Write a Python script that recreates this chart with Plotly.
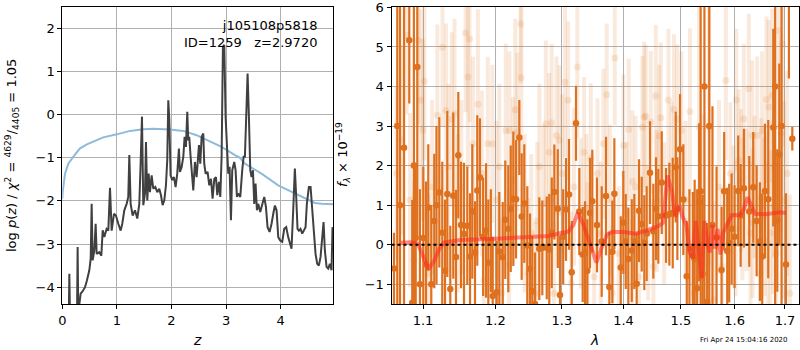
import plotly.graph_objects as go

# ---------------- left panel: log p(z) ----------------
z_pz = [0.0, 0.06, 0.10, 0.12, 0.129, 0.14, 0.17, 0.21, 0.25, 0.27,
        0.281, 0.292, 0.31, 0.336, 0.37, 0.416, 0.45, 0.495, 0.52, 0.538,
        0.556, 0.587, 0.611, 0.63, 0.678, 0.715, 0.74, 0.77, 0.812, 0.843,
        0.874, 0.904, 0.947, 0.983, 1.026, 1.069, 1.099, 1.136, 1.179, 1.209,
        1.228, 1.252, 1.289, 1.332, 1.374, 1.411, 1.435, 1.46, 1.484, 1.515,
        1.533, 1.557, 1.582, 1.606, 1.637, 1.667, 1.704, 1.74, 1.777, 1.808,
        1.838, 1.869, 1.899, 1.923, 1.942, 1.96, 1.984, 2.015, 2.046, 2.076,
        2.106, 2.137, 2.155, 2.186, 2.217, 2.241, 2.265, 2.29, 2.308, 2.326,
        2.351, 2.375, 2.40, 2.43, 2.461, 2.504, 2.528, 2.553, 2.583, 2.601,
        2.626, 2.662, 2.693, 2.724, 2.754, 2.785, 2.815, 2.84, 2.87, 2.895,
        2.919, 2.943, 2.968, 2.992, 3.017, 3.041, 3.065, 3.09, 3.114, 3.151,
        3.175, 3.2, 3.224, 3.261, 3.297, 3.322, 3.346, 3.37, 3.395, 3.419,
        3.444, 3.468, 3.493, 3.517, 3.541, 3.566, 3.59, 3.627, 3.669, 3.70,
        3.731, 3.761, 3.798, 3.834, 3.871, 3.896, 3.926, 3.957, 3.993, 4.03,
        4.066, 4.103, 4.139, 4.17, 4.20, 4.231, 4.261, 4.286, 4.31, 4.335,
        4.365, 4.396, 4.426, 4.457, 4.481, 4.518, 4.549, 4.579, 4.61, 4.64,
        4.671, 4.701, 4.732, 4.763, 4.787, 4.811, 4.842, 4.872, 4.903, 4.933,
        4.951, 4.97]
logp = [-5.5, -5.2, -5.0, -4.6, -3.69, -4.6, -5.2, -5.0, -4.8, -4.6,
        -3.07, -4.6, -4.35, -4.15, -4.1, -4.0, -3.85, -3.61, -3.34, -2.07,
        -3.38, -3.15, -2.53, -3.23, -3.19, -3.27, -2.68, -2.84, -2.65, -2.69,
        -1.70, -2.69, -2.30, -2.34, -2.53, -2.69, -2.53, -2.22, -2.07, -1.91,
        -0.94, -2.07, -2.34, -2.22, -2.41, -2.07, -1.14, -0.05, -2.10, -1.83,
        -0.64, -1.99, -1.37, -1.80, -1.41, -1.72, -1.68, -1.80, -1.72, -1.87,
        -2.10, -1.99, -1.64, -1.06, 0.33, -0.09, -1.41, -1.52, -1.45, -1.68,
        -1.37, -0.79, -1.33, -1.22, -0.98, -0.52, -0.75, 0.06, -0.60, -0.52,
        -0.98, -1.29, -1.76, -1.10, -1.45, -0.71, -1.14, -0.52, -0.44, -1.14,
        -1.37, -1.33, -1.64, -1.49, -1.95, -1.49, -1.45, -1.87, -1.56, -1.91,
        -0.98, 1.57, 1.61, -0.05, -0.83, -1.37, -1.21, -2.45, -1.29, -1.10,
        -1.29, -1.91, -1.83, -1.91, -1.29, -0.98, -0.98, 0.02, 0.95, -0.05,
        -1.29, -1.45, -1.29, -2.07, -1.60, -2.22, -2.07, -2.26, -2.07, -1.91,
        -2.14, -2.61, -2.72, -2.53, -2.26, -2.11, -2.22, -2.84, -2.92, -2.95,
        -2.65, -2.61, -2.84, -2.99, -3.11, -2.22, -1.25, -1.91, -2.65, -2.69,
        -2.65, -2.76, -2.69, -2.61, -2.07, -1.68, -1.68, -2.14, -2.76, -3.23,
        -3.46, -3.50, -3.30, -2.84, -2.49, -3.15, -3.53, -3.57, -3.46, -3.61,
        -2.61, -2.84]

z_prior = [0.0, 0.007, 0.05, 0.11, 0.2, 0.32, 0.45, 0.57, 0.75, 1.0, 1.24, 1.48,
           1.67, 1.97, 2.22, 2.46, 2.675, 2.919, 3.163, 3.25, 3.346, 3.65, 3.957,
           4.261, 4.506, 4.628, 4.75, 4.964]
prior = [-1.95, -1.8, -1.37, -1.14, -0.98, -0.79, -0.69, -0.63, -0.53, -0.46, -0.38,
         -0.34, -0.33, -0.35, -0.38, -0.48, -0.6, -0.75, -0.94, -1.0, -1.14, -1.37,
         -1.64, -1.83, -1.99, -2.05, -2.07, -2.08]

# ---------------- right panel: spectrum ----------------
lam_a = [1.0623, 1.0665, 1.0700, 1.0752, 1.0820, 1.0859, 1.0880, 1.0904, 1.0925, 1.0960,
         1.1004, 1.1040, 1.1070, 1.1110, 1.1150, 1.1180, 1.1218, 1.1258, 1.1295, 1.1326,
         1.1367, 1.1408, 1.1445, 1.1477, 1.1515, 1.1556, 1.1602, 1.1640, 1.1672, 1.1710,
         1.1742, 1.1780, 1.1825, 1.1866, 1.1899, 1.1935, 1.1962, 1.2020, 1.2057, 1.2107,
         1.2144, 1.2188, 1.2224, 1.2262, 1.2302, 1.2351, 1.2386, 1.2425, 1.2470, 1.2511,
         1.2545, 1.2586, 1.2651, 1.2697, 1.2765, 1.2804, 1.2842, 1.2882, 1.2935, 1.2970,
         1.3020, 1.3064, 1.3111, 1.3154, 1.3222, 1.3275, 1.3329, 1.3366, 1.3403, 1.3447,
         1.3484, 1.3560, 1.3637, 1.3708, 1.3763, 1.3813, 1.3846, 1.3953, 1.3996, 1.4037,
         1.4081, 1.4139, 1.4183, 1.4223, 1.4263, 1.4309, 1.4354, 1.4395, 1.4453, 1.4511,
         1.4558, 1.4598, 1.4658, 1.4734, 1.4793, 1.4853, 1.4907, 1.4936, 1.4985, 1.5044,
         1.5106, 1.5154, 1.5216, 1.5250, 1.5296, 1.5333, 1.5360, 1.5396, 1.5430, 1.5481,
         1.5520, 1.5580, 1.5657, 1.5752, 1.5801, 1.5859, 1.5897, 1.5943, 1.6000, 1.6070,
         1.6117, 1.6181, 1.6285, 1.6363, 1.6430, 1.6496, 1.6541, 1.6595, 1.6661, 1.6762,
         1.6800, 1.6843, 1.6884, 1.6930, 1.7020, 1.7080, 1.7150]
flux_a = [-0.60, 3.00, 1.00, 2.45, 5.17, -1.47, 2.00, 0.17, 4.49, -1.00,
          0.17, -0.50, 0.94, -1.00, 0.60, 1.00, 1.32, 0.30, -0.66, 1.28,
          -1.12, 1.24, -0.31, 2.26, 0.50, 0.27, 0.48, -0.30, 0.84, -0.20,
          1.37, 1.70, 0.20, 0.36, -0.46, 0.10, -1.30, -1.20, -0.17, -0.32,
          0.63, 0.40, 0.91, 1.16, 1.15, 2.71, 0.71, 1.04, -0.02, -0.61,
          -1.18, -1.50, -0.10, -0.08, -0.08, -0.12, 0.30, 1.33, 0.91, -1.27,
          0.20, 0.89, 1.27, -0.70, 3.07, 0.84, -0.25, -0.20, -0.66, 0.80,
          1.10, 0.50, 0.08, 1.23, -1.07, -0.18, 1.29, -0.58, 0.56, 0.08,
          -0.36, -0.15, 0.08, -0.99, 0.86, 0.52, 0.05, 0.28, 1.82, 0.34,
          0.91, 0.72, 1.57, 0.74, 0.77, 0.80, 1.96, 0.91, 2.41, 1.14,
          -0.80, -0.10, -0.27, -0.36, -1.10, 1.07, 1.35, -0.74, 4.00, -1.45,
          3.00, 0.50, 0.18, -0.64, 1.35, -0.16, 0.04, 0.40, 0.20, 1.36,
          0.74, 1.43, 0.84, 1.45, 0.60, 0.08, -0.30, 1.36, 1.15, 2.96,
          4.00, 0.61, 2.28, 3.00, -0.50, 6.50, 2.68]
err_a = [0.9, 9.0, 9.0, 4.6, 1.6, 2.6, 8.0, 1.9, 4.3, 2.4,
         1.8, 2.1, 1.6, 2.0, 1.7, 2.0, 1.9, 1.8, 1.8, 2.1,
         1.6, 2.1, 1.7, 1.6, 1.6, 1.8, 1.5, 1.6, 1.7, 1.3,
         1.9, 1.5, 1.5, 1.7, 1.6, 1.3, 1.5, 1.3, 1.5, 1.4,
         1.5, 1.6, 1.6, 1.7, 1.5, 0.95, 1.6, 1.5, 1.5, 1.4,
         1.4, 1.3, 1.3, 1.2, 1.3, 1.4, 1.4, 1.2, 1.5, 1.5,
         1.2, 1.3, 1.4, 1.3, 0.95, 1.1, 1.2, 1.3, 1.3, 1.4,
         1.3, 1.2, 1.4, 1.5, 1.4, 1.3, 1.4, 1.3, 1.3, 1.2,
         1.3, 1.3, 1.2, 1.3, 1.3, 1.2, 1.2, 1.2, 1.3, 1.2,
         1.3, 1.2, 1.3, 1.2, 1.3, 1.4, 1.4, 1.3, 1.4, 1.4,
         1.4, 1.5, 1.6, 2.0, 2.5, 2.0, 8.0, 2.0, 8.0, 2.0,
         8.0, 3.0, 1.8, 1.6, 1.5, 1.6, 1.5, 1.4, 1.3, 1.4,
         1.3, 1.5, 1.4, 1.4, 1.4, 1.5, 1.6, 1.7, 2.0, 2.5,
         6.0, 1.8, 2.3, 6.0, 1.8, 2.3, 0.3]

lam_b = [1.0655, 1.0720, 1.0786, 1.0830, 1.0880, 1.0939, 1.0970, 1.1019, 1.1075, 1.1121,
         1.1191, 1.1261, 1.1308, 1.1340, 1.1387, 1.1424, 1.1471, 1.1518, 1.1578, 1.1611,
         1.1634, 1.1681, 1.1751, 1.1807, 1.1835, 1.1891, 1.1956, 1.2017, 1.2057, 1.2092,
         1.2151, 1.2206, 1.2256, 1.2291, 1.2320, 1.2370, 1.2380, 1.2430, 1.2480, 1.2530,
         1.2588, 1.2653, 1.2717, 1.2752, 1.2802, 1.2841, 1.2876, 1.2916, 1.2960, 1.3005,
         1.3049, 1.3097, 1.3146, 1.3189, 1.3243, 1.3297, 1.3351, 1.3405, 1.3459, 1.3514,
         1.3568, 1.3622, 1.3665, 1.3719, 1.3773, 1.3811, 1.3854, 1.3919, 1.4000, 1.4047,
         1.4087, 1.4146, 1.4204, 1.4262, 1.4321, 1.4350, 1.4379, 1.4420, 1.4466, 1.4513,
         1.4554, 1.4612, 1.4641, 1.4700, 1.4776, 1.4828, 1.4875, 1.4933, 1.5009, 1.5084,
         1.5164, 1.5238, 1.5331, 1.5412, 1.5517, 1.5610, 1.5703, 1.5765, 1.5833, 1.5920,
         1.5981, 1.6033, 1.6079, 1.6125, 1.6178, 1.6230, 1.6276, 1.6309, 1.6342, 1.6388,
         1.6441, 1.6493, 1.6539, 1.6586, 1.6625, 1.6671, 1.6704, 1.6737, 1.6783, 1.6822,
         1.6868, 1.6914, 1.6954, 1.6980, 1.7046, 1.7099, 1.6020, 1.6150, 1.6350, 1.6520,
         1.6650, 1.6760, 1.2200, 1.2620, 1.3390, 1.4150, 1.4570, 1.1000]
flux_b = [1.80, 2.64, 5.29, 1.13, -0.39, 5.16, 3.65, 4.13, -0.72, 1.46,
          3.27, 4.99, 3.39, 1.97, 3.17, 3.31, 0.79, 1.46, 5.35, 4.24,
          5.20, 2.55, 3.55, 1.80, -0.89, 2.55, 2.55, 1.13, 1.97, -1.23,
          2.89, 2.89, 1.63, 3.41, 2.85, 5.58, 4.22, 0.79, -0.72, 0.29,
          -1.23, 1.97, 1.04, 3.06, 2.34, 3.08, -1.23, 2.76, 2.64, 1.80,
          4.11, 3.65, -0.97, 1.46, 4.49, 0.79, 2.34, -0.22, 2.18, -0.81,
          1.80, 0.29, 2.55, 3.79, 1.13, -1.23, 4.72, -0.22, 2.51, 0.79,
          2.91, -1.06, 1.46, -0.81, 2.97, 3.23, 3.25, 0.29, 3.10, -0.55,
          3.76, 2.75, 3.21, 0.79, 3.66, 1.80, 3.42, 3.17, 2.89, 1.13,
          3.37, -1.23, 2.97, 0.29, 2.97, -1.39, 1.46, -0.55, 4.15, 1.80,
          0.71, 3.66, 2.13, 1.63, 3.18, 1.13, 3.94, 0.29, 2.76, 1.46,
          2.76, -0.72, 2.89, 0.71, 3.67, 3.48, 0.29, 3.77, 1.97, -0.22,
          5.41, 2.81, 5.08, 1.13, 1.80, -1.23, 0.40, 0.90, 0.55, 1.20,
          0.10, 0.95, -0.50, 0.60, 0.90, 1.60, 1.10, 2.90]
err_b = [2.2, 2.4, 2.0, 2.2, 2.0, 2.1, 2.3, 2.0, 2.0, 2.2,
         2.3, 2.0, 2.2, 2.1, 2.2, 2.4, 2.0, 2.2, 2.0, 2.3,
         2.1, 2.2, 2.4, 2.1, 1.9, 2.2, 2.0, 2.0, 2.1, 1.9,
         2.2, 2.0, 2.1, 2.3, 2.0, 1.5, 2.2, 2.0, 1.9, 2.0,
         1.8, 2.1, 2.0, 2.1, 2.0, 2.0, 1.8, 2.0, 1.9, 2.0,
         1.9, 2.0, 1.8, 2.0, 1.8, 1.9, 1.9, 1.8, 1.9, 1.8,
         1.9, 1.8, 1.9, 1.8, 1.9, 1.7, 1.7, 1.7, 1.8, 1.8,
         1.8, 1.7, 1.8, 1.7, 1.8, 1.9, 1.8, 1.7, 1.8, 1.7,
         1.8, 1.8, 1.9, 1.8, 1.8, 1.8, 1.9, 1.9, 2.0, 2.0,
         2.1, 2.0, 3.5, 3.0, 3.5, 2.5, 2.2, 2.0, 2.0, 1.8,
         1.8, 1.8, 1.8, 1.8, 1.9, 1.8, 1.9, 1.8, 1.9, 1.8,
         2.0, 1.9, 2.0, 2.0, 2.1, 2.2, 2.1, 2.2, 2.3, 2.3,
         2.5, 2.5, 2.6, 2.5, 2.6, 2.5, 1.7, 1.8, 1.9, 2.0,
         2.0, 2.2, 1.9, 2.0, 1.9, 1.8, 1.8, 2.3]

lam_m = [1.071, 1.085, 1.093, 1.100, 1.1075, 1.115, 1.122, 1.128, 1.15, 1.20,
         1.25, 1.28, 1.30, 1.31, 1.318, 1.325, 1.333, 1.345, 1.355, 1.363,
         1.372, 1.38, 1.40, 1.42, 1.44, 1.46, 1.468, 1.476, 1.484, 1.490,
         1.497, 1.503, 1.51, 1.516, 1.522, 1.527, 1.533, 1.538, 1.543, 1.548,
         1.553, 1.558, 1.563, 1.568, 1.573, 1.578, 1.585, 1.595, 1.61, 1.618,
         1.625, 1.632, 1.64, 1.66, 1.69, 1.702]
flux_m = [0.05, 0.06, 0.03, -0.30, -0.62, -0.40, -0.10, 0.05, 0.12, 0.15,
          0.20, 0.22, 0.30, 0.33, 0.50, 0.80, 0.55, 0.00, -0.45, -0.10,
          0.25, 0.32, 0.32, 0.28, 0.36, 0.47, 0.55, 1.75, 1.35, 0.70,
          1.00, 0.70, 0.50, -0.20, -0.35, 0.60, -0.20, -0.85, 0.60, 0.10,
          -0.20, 0.50, -0.10, 0.40, -0.25, 0.30, 0.50, 0.75, 0.75, 0.90,
          1.20, 1.00, 0.78, 0.77, 0.82, 0.80]

zero_x = [1.0591, 1.7297]
zero_y = [0.0, 0.0]

for a, b in [(z_pz, logp), (z_prior, prior), (lam_a, flux_a), (lam_a, err_a),
             (lam_b, flux_b), (lam_b, err_b), (lam_m, flux_m)]:
    assert len(a) == len(b), (len(a), len(b))

ORANGE = "rgb(222,112,30)"
PALE = "rgba(222,112,30,0.15)"

fig = go.Figure()
fig.add_trace(go.Scatter(x=z_prior, y=prior, mode="lines",
                         line=dict(color="rgb(143,187,218)", width=2),
                         xaxis="x", yaxis="y", showlegend=False))
fig.add_trace(go.Scatter(x=z_pz, y=logp, mode="lines",
                         line=dict(color="rgb(64,64,64)", width=2),
                         xaxis="x", yaxis="y", showlegend=False))

fig.add_trace(go.Scatter(x=lam_b, y=flux_b, mode="markers",
                         marker=dict(color=PALE, size=7),
                         error_y=dict(type="data", array=err_b, thickness=4,
                                      width=0, color=PALE),
                         xaxis="x2", yaxis="y2", showlegend=False))
fig.add_trace(go.Scatter(x=lam_a, y=flux_a, mode="markers",
                         marker=dict(color=ORANGE, size=6.5),
                         error_y=dict(type="data", array=err_a, thickness=2.2,
                                      width=0, color=ORANGE),
                         xaxis="x2", yaxis="y2", showlegend=False))
fig.add_trace(go.Scatter(x=lam_m, y=flux_m, mode="lines",
                         line=dict(color="rgba(255,40,30,0.55)", width=4),
                         xaxis="x2", yaxis="y2", showlegend=False))
fig.add_trace(go.Scatter(x=zero_x, y=zero_y, mode="lines",
                         line=dict(color="black", width=2, dash="dot"),
                         xaxis="x2", yaxis="y2", showlegend=False))

axis_common = dict(showgrid=True, gridcolor="#b0b0b0", gridwidth=1,
                   showline=True, mirror=True, linecolor="black", linewidth=1,
                   ticks="outside", ticklen=4, tickcolor="black",
                   tickfont=dict(size=13, color="black"), zeroline=False,
                   ticklabeloverflow="allow", automargin=False)

ydom = [46 / 350, 343 / 350]
fig.update_layout(
    width=800, height=350,
    margin=dict(l=0, r=0, t=0, b=0, autoexpand=False),
    paper_bgcolor="white", plot_bgcolor="white",
    font=dict(family="DejaVu Sans", color="black"),
    xaxis=dict(domain=[62.3 / 800, 333 / 800], range=[0, 4.96],
               tickvals=[0, 1, 2, 3, 4], anchor="y", **axis_common),
    yaxis=dict(domain=ydom, range=[-4.39, 2.49],
               tickvals=[-4, -3, -2, -1, 0, 1, 2], anchor="x", **axis_common),
    xaxis2=dict(domain=[391.5 / 800, 799.3 / 800], type="log",
                range=[0.02494, 0.23792],
                tickvals=[1.1, 1.2, 1.3, 1.4, 1.5, 1.6, 1.7],
                ticktext=["1.1", "1.2", "1.3", "1.4", "1.5", "1.6", "1.7"],
                anchor="y2", layer="above traces", **axis_common),
    yaxis2=dict(domain=ydom, range=[-1.5, 6.01],
                tickvals=[-1, 0, 1, 2, 3, 4, 5, 6],
                ticktext=["−1", "0", "1", "2", "3", "4", "5", "6"],
                anchor="x2", layer="above traces", **axis_common),
)

ann = [
    dict(x=12 / 800, y=(350 - 156) / 350, textangle=-90,
         text="log <i>p</i>(<i>z</i>) / <i>χ</i><sup>2</sup> = "
              "<sup>4629</sup>/<sub>4405</sub> = 1.05",
         font=dict(size=13)),
    dict(x=197 / 800, y=(350 - 340) / 350, text="<i>z</i>", font=dict(size=14)),
    dict(x=594 / 800, y=(350 - 340) / 350, text="<i>λ</i>", font=dict(size=14)),
    dict(x=343 / 800, y=(350 - 155) / 350, textangle=-90,
         text="<i>f</i><sub><i>λ</i></sub> × 10<sup>−19</sup>", font=dict(size=13)),
    dict(x=744 / 800, y=(350 - 339.5) / 350, text="Fri Apr 24 15:04:16 2020",
         font=dict(size=7)),
    dict(x=319 / 800, y=(350 - 16) / 350, xanchor="right", yanchor="top",
         align="right",
         text="j105108p5818<br>ID=1259\u00a0\u00a0\u00a0z=2.9720",
         font=dict(size=13)),
]
for a in ann:
    a.setdefault("xanchor", "center")
    a.setdefault("yanchor", "middle")
    fig.add_annotation(xref="paper", yref="paper", showarrow=False, **a)

fig.write_html("out.html")
